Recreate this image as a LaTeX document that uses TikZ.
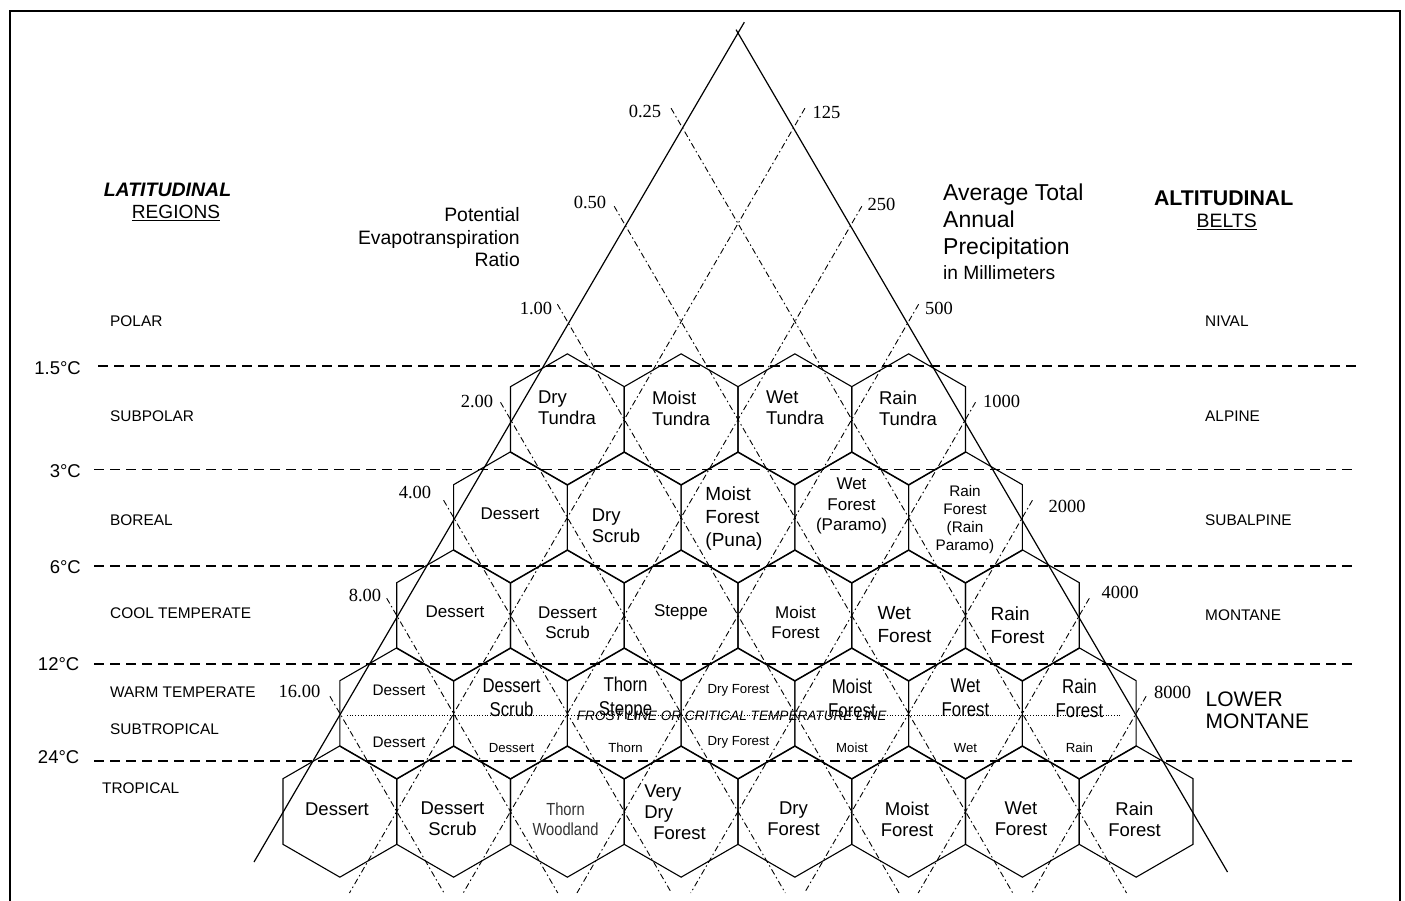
\documentclass[tikz,border=0pt]{standalone}
\usepackage{fontspec}
\setmainfont{Liberation Sans}
\newfontfamily\serifnum{Liberation Serif}
\newfontfamily\narrowsans[FakeStretch=0.84]{Liberation Sans}
\usetikzlibrary{calc}
\newcommand{\lifefont}{\fontsize{18.5}{21}\selectfont}
\newcommand{\bigfont}{\fontsize{19}{23}\selectfont}
\newcommand{\midfont}{\fontsize{17}{20.5}\selectfont}
\newcommand{\lowfont}{\fontsize{15.3}{18}\selectfont}
\newcommand{\subfont}{\fontsize{13.2}{16}\selectfont}
\newcommand{\narrowfont}{\narrowsans\fontsize{20}{24}\selectfont}
\newcommand{\thinfont}{\narrowsans\fontsize{17.5}{20}\selectfont}
\newcommand{\hexcell}[2]{%
    \draw[hexline] (#1,#2) +(0,-65.67) -- +(56.875,-32.83) -- +(56.875,32.83)
    -- +(0,65.67) -- +(-56.875,32.83) -- +(-56.875,-32.83) -- cycle;}

\begin{document}
\begin{tikzpicture}[
                x = 1pt, y = -1pt, % one unit = one pixel of the chart
                hexline/.style = {line width=1.1pt, line join=miter},
                sideline/.style = {line width=1.2pt},
                guide/.style = {line width=0.9pt,
                    dash pattern=on 6pt off 3pt on 1.5pt off 3pt},
                isotherm/.style = {line width=1.7pt, dash pattern=on 9.5pt off 6.5pt},
                frostline/.style = {line width=0.7pt, dotted},
                zone/.style = {font=\lifefont, align=center, inner sep=0pt},
                band/.style = {font=\fontsize{15.4}{18}\selectfont, anchor=west, inner sep=0pt},
                isolabel/.style = {font=\fontsize{18.5}{21}\selectfont, anchor=east, inner sep=0pt},
                scalelabel/.style = {font=\serifnum\fontsize{18.5}{21}\selectfont, inner sep=0pt}
                ]
                \useasboundingbox (0,0) rectangle (1405,900);
                \draw[line width=2pt] (9.5,11) rectangle (1400,940);

                % hexagons, top row first
                \hexcell{567.375}{419.5} \hexcell{681.125}{419.5}
                \hexcell{794.875}{419.5} \hexcell{908.625}{419.5}

                \hexcell{510.5}{517.5} \hexcell{624.25}{517.5} \hexcell{738}{517.5}
                \hexcell{851.75}{517.5} \hexcell{965.5}{517.5}

                \hexcell{453.625}{615.5} \hexcell{567.375}{615.5} \hexcell{681.125}{615.5}
                \hexcell{794.875}{615.5} \hexcell{908.625}{615.5} \hexcell{1022.375}{615.5}

                \hexcell{396.75}{713.5} \hexcell{510.5}{713.5} \hexcell{624.25}{713.5}
                \hexcell{738}{713.5} \hexcell{851.75}{713.5} \hexcell{965.5}{713.5}
                \hexcell{1079.25}{713.5}

                \hexcell{339.875}{811.5} \hexcell{453.625}{811.5} \hexcell{567.375}{811.5}
                \hexcell{681.125}{811.5} \hexcell{794.875}{811.5} \hexcell{908.625}{811.5}
                \hexcell{1022.375}{811.5} \hexcell{1136.125}{811.5}

                % triangle
                \coordinate (apex) at (738,33);
                \coordinate (leftfoot) at (254,862);
                \coordinate (rightfoot) at (1227.5,872);
                \draw[sideline] ($(leftfoot)!1.013!(apex)$) -- (leftfoot);
                \draw[sideline] ($(rightfoot)!1.004!(apex)$) -- (rightfoot);

                % evapotranspiration guide lines
                \draw[guide] (671.1,108.25) -- (1126.55,893);
                \draw[guide] (614.2,206.25) -- (1012.8,893);
                \draw[guide] (557.4,304.25) -- (899.05,893);
                \draw[guide] (500.5,402.25) -- (785.3,893);
                \draw[guide] (443.6,500.25) -- (671.55,893);
                \draw[guide] (386.7,598.25) -- (557.8,893);
                \draw[guide] (329.9,696.25) -- (444.05,893);

                % precipitation guide lines
                \draw[guide] (804.9,108.25) -- (349.45,893);
                \draw[guide] (861.8,206.25) -- (463.2,893);
                \draw[guide] (918.6,304.25) -- (576.95,893);
                \draw[guide] (975.5,402.25) -- (690.7,893);
                \draw[guide] (1032.4,500.25) -- (804.45,893);
                \draw[guide] (1089.3,598.25) -- (918.2,893);
                \draw[guide] (1146.1,696.25) -- (1031.95,893);

                % isotherms
                \draw[isotherm] (98,366) -- (1357,366);
                \draw[isotherm] (94,469.5) -- (1357,469.5);
                \draw[isotherm] (94,566) -- (1357,566);
                \draw[isotherm] (94,664) -- (1357,664);
                \draw[isotherm] (94,760.7) -- (1357,760.7);
                \node[isolabel] (t15) at (81,368) {1.5°C};
                \node[isolabel] (t3) at (81,471) {3°C};
                \node[isolabel] (t6) at (81,567.5) {6°C};
                \node[isolabel] (t12) at (79.5,664.5) {12°C};
                \node[isolabel] (t24) at (79.5,757.5) {24°C};

                \draw[frostline] (347,715) -- (1120,715);
                \node[font=\fontsize{13.6}{16}\selectfont\itshape, inner sep=0pt] (frost)
                at (731.7,716) {FROST LINE OR CRITICAL TEMPERATURE LINE};

                % scale labels
                \node[scalelabel] (r025) at (645,111) {0.25};
                \node[scalelabel] (r050) at (590,202) {0.50};
                \node[scalelabel] (r100) at (536,308) {1.00};
                \node[scalelabel] (r200) at (477,401) {2.00};
                \node[scalelabel] (r400) at (415,492) {4.00};
                \node[scalelabel] (r800) at (365,595) {8.00};
                \node[scalelabel] (r1600) at (299.5,691) {16.00};
                \node[scalelabel] (p125) at (826.5,112) {125};
                \node[scalelabel] (p250) at (881.5,204) {250};
                \node[scalelabel] (p500) at (939,308) {500};
                \node[scalelabel] (p1000) at (1001.5,401) {1000};
                \node[scalelabel] (p2000) at (1067,506) {2000};
                \node[scalelabel] (p4000) at (1120,592.5) {4000};
                \node[scalelabel] (p8000) at (1172.5,692) {8000};

                % axis titles
                \node[font=\fontsize{19.5}{22}\selectfont\bfseries\itshape, inner sep=0pt]
                (lattitle) at (167.5,190) {LATITUDINAL};
                \node[font=\fontsize{19.1}{22}\selectfont, inner sep=0pt]
                (latsub) at (176,213) {\underline{REGIONS}};
                \node[font=\fontsize{21.3}{24}\selectfont\bfseries, inner sep=0pt]
                (alttitle) at (1223.7,198) {ALTITUDINAL};
                \node[font=\fontsize{19.4}{22}\selectfont, inner sep=0pt]
                (altsub) at (1226.7,222) {\underline{BELTS}};
                \node[font=\fontsize{19.4}{22.5}\selectfont, align=right, anchor=east, inner sep=0pt]
                (pet) at (520,237.5) {Potential\\Evapotranspiration\\Ratio};
                \node[font=\fontsize{23}{27}\selectfont, align=left, anchor=west, inner sep=0pt]
                (precip) at (943,222) {Average Total\\Annual\\Precipitation};
                \node[font=\fontsize{19.2}{22}\selectfont, anchor=west, inner sep=0pt]
                (precipunit) at (943,272.5) {in Millimeters};

                % latitudinal regions
                \node[band] (polar) at (110,321.5) {POLAR};
                \node[band] (subpolar) at (110,416.5) {SUBPOLAR};
                \node[band] (boreal) at (110,520.5) {BOREAL};
                \node[band] (cool) at (110,613.5) {COOL TEMPERATE};
                \node[band] (warm) at (110,692.5) {WARM TEMPERATE};
                \node[band] (subtrop) at (110,729) {SUBTROPICAL};
                \node[band] (tropical) at (102,788.5) {TROPICAL};

                % altitudinal belts
                \node[band] (nival) at (1205,321.5) {NIVAL};
                \node[band] (alpine) at (1205,416.5) {ALPINE};
                \node[band] (subalpine) at (1205,520.5) {SUBALPINE};
                \node[band] (montane) at (1205,615) {MONTANE};
                \node[band, font=\fontsize{21}{22.5}\selectfont, align=left]
                (lowmontane) at (1205.5,710.5) {LOWER\\MONTANE};

                % subpolar row
                \node[zone, align=left] (drytundra) at (567,408) {Dry\\Tundra};
                \node[zone, align=left] (moisttundra) at (681,408) {Moist\\Tundra};
                \node[zone, align=left] (wettundra) at (795,408) {Wet\\Tundra};
                \node[zone, align=left] (raintundra) at (908,408) {Rain\\Tundra};

                % boreal row
                \node[zone, font=\midfont] (borealdesert) at (510,514) {Dessert};
                \node[zone, align=left] (dryscrub) at (616,526) {Dry\\Scrub};
                \node[zone, align=left, font=\bigfont] (puna) at (734,518.5) {Moist\\Forest\\(Puna)};
                \node[zone, font=\midfont] (paramo) at (851.5,506) {Wet\\Forest\\(Paramo)};
                \node[zone, font=\lowfont] (rainparamo) at (965,519.5) {Rain\\Forest\\(Rain\\Paramo)};

                % cool temperate row
                \node[zone, font=\midfont] (cooldesert) at (455,612) {Dessert};
                \node[zone, font=\midfont] (coolscrub) at (567.5,622.5) {Dessert\\Scrub};
                \node[zone, font=\midfont] (steppe) at (681,612) {Steppe};
                \node[zone, font=\midfont] (coolmoist) at (795.5,622.5) {Moist\\Forest};
                \node[zone, align=left, font=\bigfont] (coolwet) at (904.5,625) {Wet\\Forest};
                \node[zone, align=left, font=\bigfont] (coolrain) at (1017.5,625) {Rain\\Forest};

                % warm temperate and subtropical row
                \node[zone, font=\lowfont] (warmdesert) at (399,690) {Dessert};
                \node[zone, font=\narrowfont] (warmscrub) at (511.5,698) {Dessert\\Scrub};
                \node[zone, font=\narrowfont] (thornsteppe) at (625.5,698) {Thorn\\Steppe};
                \node[zone, font=\subfont] (warmdry) at (738.5,690) {Dry Forest};
                \node[zone, font=\narrowfont] (warmmoist) at (852,698) {Moist\\Forest};
                \node[zone, font=\narrowfont] (warmwet) at (965.5,698) {Wet\\Forest};
                \node[zone, font=\narrowfont] (warmrain) at (1079.5,698) {Rain\\Forest};
                \node[zone, font=\lowfont] (subdesert) at (399,742.5) {Dessert};
                \node[zone, font=\subfont] (subscrub) at (511.5,748) {Dessert};
                \node[zone, font=\subfont] (subthorn) at (625.5,748) {Thorn};
                \node[zone, font=\subfont] (subdry) at (738.5,742.5) {Dry Forest};
                \node[zone, font=\subfont] (submoist) at (852,748) {Moist};
                \node[zone, font=\subfont] (subwet) at (965.5,748) {Wet};
                \node[zone, font=\subfont] (subrain) at (1079.5,748) {Rain};

                % tropical row
                \node[zone] (tropdesert) at (337,809) {Dessert};
                \node[zone] (tropscrub) at (452.5,819) {Dessert\\Scrub};
                \node[zone, font=\thinfont, text=black!80] (woodland) at (565.5,819) {Thorn\\Woodland};
                \node[zone, align=left] (verydry) at (675,812.5) {Very\\Dry\\\hspace*{9pt}Forest};
                \node[zone] (tropdry) at (793.5,819) {Dry\\Forest};
                \node[zone] (tropmoist) at (907,819) {Moist\\Forest};
                \node[zone] (tropwet) at (1021,819) {Wet\\Forest};
                \node[zone] (troprain) at (1134.5,819) {Rain\\Forest};
            \end{tikzpicture}
\end{document}
